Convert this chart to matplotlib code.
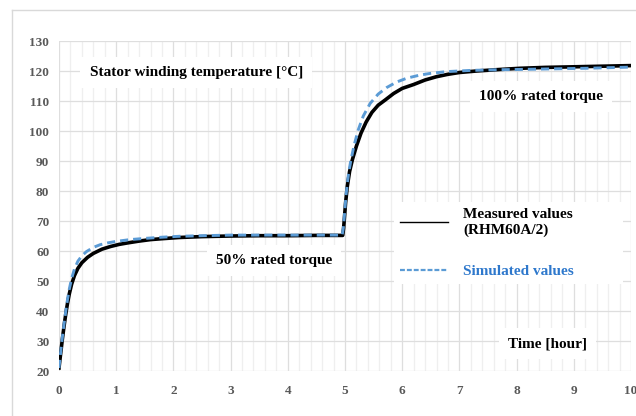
import matplotlib.pyplot as plt
from matplotlib.lines import Line2D
from matplotlib.ticker import MultipleLocator

# measured stator winding temperature (RHM60A/2)
t_meas = [0.0, 0.03, 0.06, 0.09, 0.12, 0.15, 0.18, 0.22, 0.27, 0.33, 0.4, 0.5,
          0.6, 0.75, 0.9, 1.05, 1.2, 1.4, 1.6, 1.8, 2.1, 2.5, 3.0, 3.5, 4.0, 4.5,
          4.96, 4.975, 4.99, 5.01, 5.04, 5.08, 5.13, 5.2, 5.28, 5.37, 5.47, 5.58,
          5.7, 5.85, 6.0, 6.2, 6.4, 6.6, 6.8, 7.0, 7.3, 7.7, 8.06, 8.5, 9.0, 9.5,
          10.0]
y_meas = [21.0, 26.0, 30.8, 35.2, 39.2, 42.7, 45.7, 48.9, 51.8, 54.2, 56.1, 57.9,
          59.2, 60.6, 61.5, 62.2, 62.7, 63.3, 63.8, 64.1, 64.5, 64.8, 65.0, 65.1,
          65.1, 65.2, 65.2, 67.5, 71.0, 76.0, 81.5, 86.5, 90.5, 95.0, 99.3, 103.0,
          106.2, 108.6, 110.3, 112.5, 114.2, 115.5, 117.0, 118.1, 118.9, 119.5,
          120.0, 120.5, 120.9, 121.2, 121.4, 121.6, 121.8]

# simulated values
t_sim = [0.0, 0.03, 0.06, 0.09, 0.12, 0.15, 0.18, 0.22, 0.27, 0.33, 0.4, 0.48,
         0.6, 0.72, 0.85, 1.0, 1.24, 1.5, 1.8, 2.1, 2.5, 3.0, 4.0, 4.95, 4.97,
         4.99, 5.02, 5.06, 5.1, 5.16, 5.23, 5.32, 5.44, 5.58, 5.73, 5.9, 6.08,
         6.3, 6.49, 6.78, 7.2, 7.6, 8.0, 8.6, 9.2, 9.8, 10.0]
y_sim = [21.0, 26.5, 31.5, 36.0, 40.2, 44.0, 47.3, 50.8, 54.0, 56.6, 58.4, 59.8,
         61.2, 62.1, 62.7, 63.2, 63.8, 64.2, 64.6, 64.9, 65.1, 65.3, 65.3, 65.3,
         67.5, 72.0, 79.0, 85.5, 90.0, 95.3, 100.3, 105.0, 109.2, 112.3, 114.5,
         116.3, 117.6, 118.6, 119.2, 119.8, 120.2, 120.4, 120.5, 120.7, 120.9,
         121.2, 121.3]

x_ticks = list(range(0, 11))
y_ticks = list(range(20, 131, 10))

serif = 'Liberation Serif'
tick_grey = '#595959'
grid_grey = '#dedede'
blue = '#5b9bd5'

fig = plt.figure(figsize=(6.36, 4.16), dpi=100)
ax = fig.add_axes([59 / 636, 45 / 416, 572 / 636, 330 / 416])

# light outer chart frame
fig.add_artist(Line2D([12 / 636, 1], [406 / 416, 406 / 416], color='#d9d9d9', lw=1))
fig.add_artist(Line2D([12 / 636, 12 / 636], [0, 406 / 416], color='#d9d9d9', lw=1))

ax.plot(t_meas, y_meas, color='black', lw=2.6, zorder=3)
sim_line, = ax.plot(t_sim, y_sim, color=blue, lw=2.1, zorder=4)
sim_line.set_dashes((2.8, 1.7))

ax.set_xlim(0, 10)
ax.set_ylim(20, 130)
ax.set_xticks(x_ticks)
ax.set_yticks(y_ticks)
ax.xaxis.set_minor_locator(MultipleLocator(0.2))
ax.grid(which='major', color=grid_grey, lw=0.9)
ax.grid(which='minor', axis='x', color='#efefef', lw=0.9)
ax.set_axisbelow(True)
for s in ax.spines.values():
    s.set_visible(False)
ax.tick_params(which='both', length=0)
ax.tick_params(axis='x', pad=10)
ax.tick_params(axis='y', pad=7)
for lab in ax.get_xticklabels() + ax.get_yticklabels():
    lab.set_fontfamily(serif)
    lab.set_fontweight('bold')
    lab.set_fontsize(9.5)
    lab.set_color(tick_grey)

box = dict(boxstyle='square,pad=0.6', fc='white', ec='none')
txt = dict(family=serif, weight='bold', size=11, color='black', zorder=5)
ax.text(2.40, 118.3, 'Stator winding temperature [°C]', ha='center', va='baseline', bbox=box, **txt)
ax.text(8.43, 110.3, '100% rated torque', ha='center', va='baseline', bbox=box, **txt)
ax.text(3.76, 55.7, '50% rated torque', ha='center', va='baseline', bbox=box, **txt)
ax.text(8.54, 28.0, 'Time [hour]', ha='center', va='baseline', bbox=box, **txt)

handles = [Line2D([], [], color='black', lw=1.0),
           Line2D([], [], color=blue, lw=1.6, ls=(0, (2.2, 0.9)))]
leg = ax.legend(handles, ['Measured values\n(RHM60A/2)', 'Simulated values'],
                loc='upper left', bbox_to_anchor=(0.5857, 0.512 - 0.3, 0.4, 0.3),
                mode='expand', borderaxespad=0, borderpad=0.4,
                handlelength=3.14, handletextpad=1.0, labelspacing=1.8,
                frameon=True, fancybox=False, framealpha=1,
                prop={'family': serif, 'weight': 'bold', 'size': 11},
                labelcolor=['black', '#2e78cc'])
leg.get_frame().set_edgecolor('none')
leg.set_zorder(5)

fig.savefig('out.png', dpi=100)
